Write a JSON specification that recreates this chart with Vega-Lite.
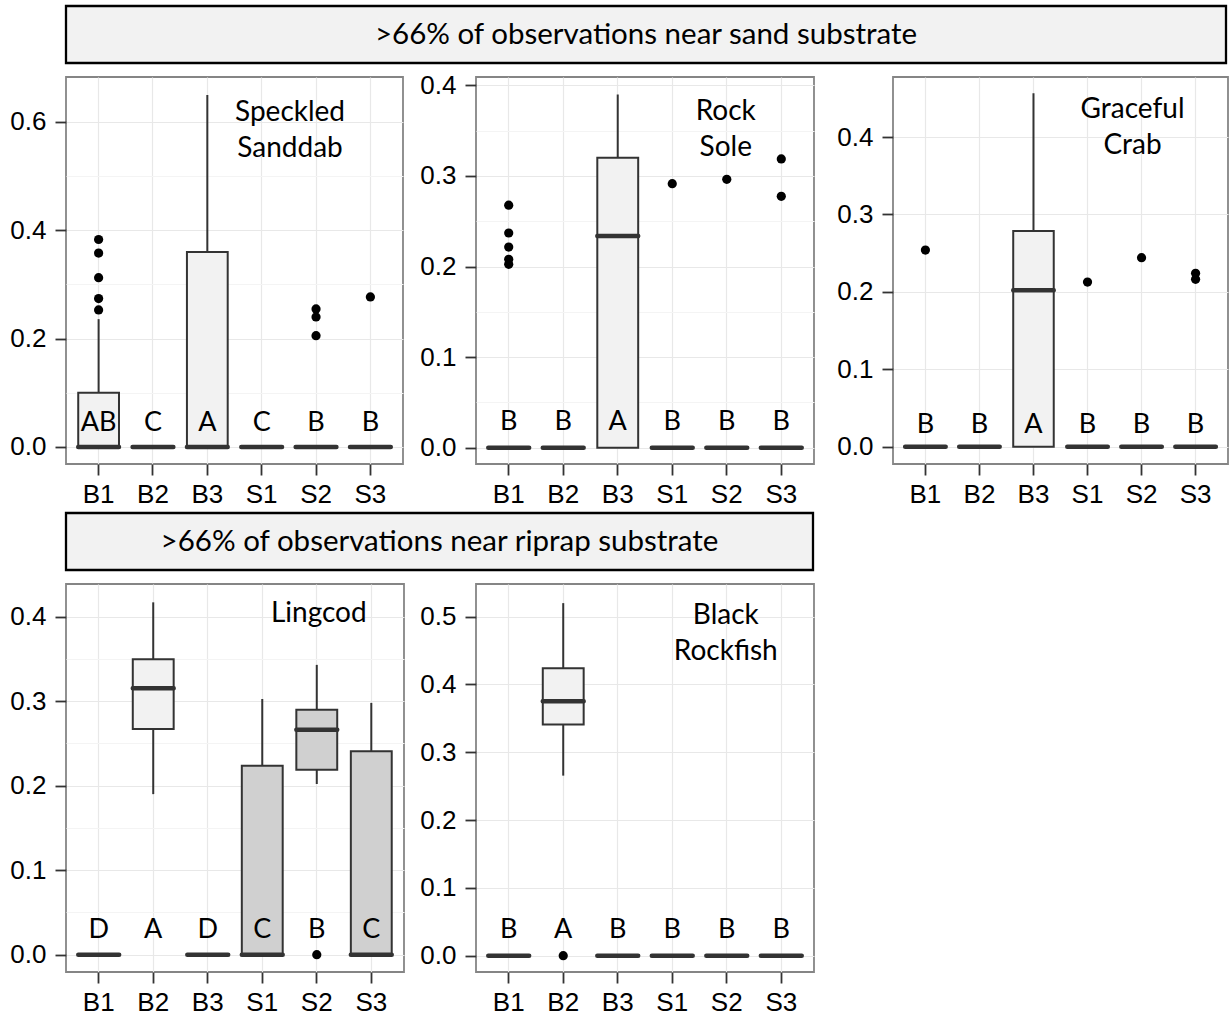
{
  "$schema": "https://vega.github.io/schema/vega-lite/v6.json",
  "padding": {"left": 4, "top": 4, "right": 0, "bottom": 0},
  "autosize": {"type": "pad"},
  "background": "white",
  "spacing": 3,
  "datasets": {
    "banners": [
      {"row": 1, "label": ">66% of observations near sand substrate"},
      {"row": 2, "label": ">66% of observations near riprap substrate"}
    ],
    "labels": [
      {"panel": "sanddab", "label": "Speckled\nSanddab"},
      {"panel": "sole", "label": "Rock\nSole"},
      {"panel": "crab", "label": "Graceful\nCrab"},
      {"panel": "lingcod", "label": "Lingcod"},
      {"panel": "rockfish", "label": "Black\nRockfish"}
    ],
    "boxes": [
      {"panel": "sanddab", "grp": "B1", "lo": 0, "q1": 0, "med": 0, "q3": 0.100, "hi": 0.236, "shade": "light", "letter": "AB"},
      {"panel": "sanddab", "grp": "B2", "lo": 0, "q1": 0, "med": 0, "q3": 0, "hi": 0, "shade": "light", "letter": "C"},
      {"panel": "sanddab", "grp": "B3", "lo": 0, "q1": 0, "med": 0, "q3": 0.360, "hi": 0.650, "shade": "light", "letter": "A"},
      {"panel": "sanddab", "grp": "S1", "lo": 0, "q1": 0, "med": 0, "q3": 0, "hi": 0, "shade": "light", "letter": "C"},
      {"panel": "sanddab", "grp": "S2", "lo": 0, "q1": 0, "med": 0, "q3": 0, "hi": 0, "shade": "light", "letter": "B"},
      {"panel": "sanddab", "grp": "S3", "lo": 0, "q1": 0, "med": 0, "q3": 0, "hi": 0, "shade": "light", "letter": "B"},
      {"panel": "sole", "grp": "B1", "lo": 0, "q1": 0, "med": 0, "q3": 0, "hi": 0, "shade": "light", "letter": "B"},
      {"panel": "sole", "grp": "B2", "lo": 0, "q1": 0, "med": 0, "q3": 0, "hi": 0, "shade": "light", "letter": "B"},
      {"panel": "sole", "grp": "B3", "lo": 0, "q1": 0, "med": 0.2337, "q3": 0.320, "hi": 0.390, "shade": "light", "letter": "A"},
      {"panel": "sole", "grp": "S1", "lo": 0, "q1": 0, "med": 0, "q3": 0, "hi": 0, "shade": "light", "letter": "B"},
      {"panel": "sole", "grp": "S2", "lo": 0, "q1": 0, "med": 0, "q3": 0, "hi": 0, "shade": "light", "letter": "B"},
      {"panel": "sole", "grp": "S3", "lo": 0, "q1": 0, "med": 0, "q3": 0, "hi": 0, "shade": "light", "letter": "B"},
      {"panel": "crab", "grp": "B1", "lo": 0, "q1": 0, "med": 0, "q3": 0, "hi": 0, "shade": "light", "letter": "B"},
      {"panel": "crab", "grp": "B2", "lo": 0, "q1": 0, "med": 0, "q3": 0, "hi": 0, "shade": "light", "letter": "B"},
      {"panel": "crab", "grp": "B3", "lo": 0, "q1": 0, "med": 0.202, "q3": 0.2786, "hi": 0.4564, "shade": "light", "letter": "A"},
      {"panel": "crab", "grp": "S1", "lo": 0, "q1": 0, "med": 0, "q3": 0, "hi": 0, "shade": "light", "letter": "B"},
      {"panel": "crab", "grp": "S2", "lo": 0, "q1": 0, "med": 0, "q3": 0, "hi": 0, "shade": "light", "letter": "B"},
      {"panel": "crab", "grp": "S3", "lo": 0, "q1": 0, "med": 0, "q3": 0, "hi": 0, "shade": "light", "letter": "B"},
      {"panel": "lingcod", "grp": "B1", "lo": 0, "q1": 0, "med": 0, "q3": 0, "hi": 0, "shade": "light", "letter": "D"},
      {"panel": "lingcod", "grp": "B2", "lo": 0.190, "q1": 0.267, "med": 0.3153, "q3": 0.3496, "hi": 0.417, "shade": "light", "letter": "A"},
      {"panel": "lingcod", "grp": "B3", "lo": 0, "q1": 0, "med": 0, "q3": 0, "hi": 0, "shade": "light", "letter": "D"},
      {"panel": "lingcod", "grp": "S1", "lo": 0, "q1": 0, "med": 0, "q3": 0.2237, "hi": 0.3026, "shade": "dark", "letter": "C"},
      {"panel": "lingcod", "grp": "S2", "lo": 0.202, "q1": 0.219, "med": 0.2663, "q3": 0.290, "hi": 0.343, "shade": "dark", "letter": "B"},
      {"panel": "lingcod", "grp": "S3", "lo": 0, "q1": 0, "med": 0, "q3": 0.2407, "hi": 0.298, "shade": "dark", "letter": "C"},
      {"panel": "rockfish", "grp": "B1", "lo": 0, "q1": 0, "med": 0, "q3": 0, "hi": 0, "shade": "light", "letter": "B"},
      {"panel": "rockfish", "grp": "B2", "lo": 0.2655, "q1": 0.3407, "med": 0.3752, "q3": 0.4239, "hi": 0.5198, "shade": "light", "letter": "A"},
      {"panel": "rockfish", "grp": "B3", "lo": 0, "q1": 0, "med": 0, "q3": 0, "hi": 0, "shade": "light", "letter": "B"},
      {"panel": "rockfish", "grp": "S1", "lo": 0, "q1": 0, "med": 0, "q3": 0, "hi": 0, "shade": "light", "letter": "B"},
      {"panel": "rockfish", "grp": "S2", "lo": 0, "q1": 0, "med": 0, "q3": 0, "hi": 0, "shade": "light", "letter": "B"},
      {"panel": "rockfish", "grp": "S3", "lo": 0, "q1": 0, "med": 0, "q3": 0, "hi": 0, "shade": "light", "letter": "B"}
    ],
    "outliers": [
      {"panel": "sanddab", "grp": "B1", "value": 0.383},
      {"panel": "sanddab", "grp": "B1", "value": 0.358},
      {"panel": "sanddab", "grp": "B1", "value": 0.3125},
      {"panel": "sanddab", "grp": "B1", "value": 0.274},
      {"panel": "sanddab", "grp": "B1", "value": 0.253},
      {"panel": "sanddab", "grp": "S2", "value": 0.2548},
      {"panel": "sanddab", "grp": "S2", "value": 0.240},
      {"panel": "sanddab", "grp": "S2", "value": 0.2055},
      {"panel": "sanddab", "grp": "S3", "value": 0.277},
      {"panel": "sole", "grp": "B1", "value": 0.2677},
      {"panel": "sole", "grp": "B1", "value": 0.237},
      {"panel": "sole", "grp": "B1", "value": 0.2215},
      {"panel": "sole", "grp": "B1", "value": 0.208},
      {"panel": "sole", "grp": "B1", "value": 0.2024},
      {"panel": "sole", "grp": "S1", "value": 0.2914},
      {"panel": "sole", "grp": "S2", "value": 0.2963},
      {"panel": "sole", "grp": "S3", "value": 0.3187},
      {"panel": "sole", "grp": "S3", "value": 0.2775},
      {"panel": "crab", "grp": "B1", "value": 0.254},
      {"panel": "crab", "grp": "S1", "value": 0.2127},
      {"panel": "crab", "grp": "S2", "value": 0.2441},
      {"panel": "crab", "grp": "S3", "value": 0.224},
      {"panel": "crab", "grp": "S3", "value": 0.2162},
      {"panel": "lingcod", "grp": "S2", "value": 0},
      {"panel": "rockfish", "grp": "B2", "value": 0}
    ]
  },
  "vconcat": [
    {
      "spacing": 6,
      "vconcat": [
        {
          "width": 1160, "height": 57,
          "view": {"fill": "#f2f2f2", "stroke": "#000000", "strokeWidth": 2.3},
          "data": {"name": "banners"},
          "transform": [{"filter": "datum.row == 1"}],
          "mark": {"type": "text", "font": "Lato", "fontSize": 29.5, "color": "#000000"},
          "encoding": {
            "y": {"datum": "banner", "type": "nominal", "axis": {"labels": false, "ticks": false, "domain": false, "grid": false, "title": null, "minExtent": 60, "maxExtent": 60}},
            "text": {"field": "label", "type": "nominal"}
          }
        },
        {
          "spacing": 17,
          "hconcat": [
            {
              "bounds": "flush",
              "spacing": 73,
              "hconcat": [
                {
                  "width": 337, "height": 387,
                  "layer": [
                    {
                      "data": {"name": "boxes"},
                      "transform": [{"filter": "datum.panel == 'sanddab'"}],
                      "mark": {"type": "rule", "color": "#333333", "strokeWidth": 2},
                      "encoding": {
                        "x": {"field": "grp", "type": "nominal", "title": null,
                              "scale": {"domain": ["B1","B2","B3","S1","S2","S3"], "paddingInner": 0.25, "paddingOuter": 0.225},
                              "axis": {"bandPosition": 0.5, "labelAngle": 0, "grid": true}},
                        "y": {"field": "lo", "type": "quantitative", "title": null,
                              "scale": {"domain": [-0.0314, 0.683], "nice": false, "zero": false},
                              "axis": {"values": [0, 0.1, 0.2, 0.3, 0.4, 0.5, 0.6],
                                       "labelExpr": "round(datum.value*10) % 2 == 1 ? '' : format(datum.value, '.1f')",
                                       "tickOpacity": {"condition": {"test": "round(datum.value*10) % 2 == 1", "value": 0}, "value": 1},
                                       "gridColor": {"condition": {"test": "round(datum.value*10) % 2 == 1", "value": "#f4f4f4"}, "value": "#e8e8e8"}}},
                        "y2": {"field": "hi"}
                      }
                    },
                    {
                      "data": {"name": "boxes"},
                      "transform": [{"filter": "datum.panel == 'sanddab'"}],
                      "mark": {"type": "bar", "stroke": "#333333", "strokeWidth": 2},
                      "encoding": {
                        "x": {"field": "grp", "type": "nominal", "title": null},
                        "y": {"field": "q1", "type": "quantitative", "title": null},
                        "y2": {"field": "q3"},
                        "color": {"field": "shade", "type": "nominal", "scale": {"domain": ["light", "dark"], "range": ["#f2f2f2", "#d0d0d0"]}, "legend": null}
                      }
                    },
                    {
                      "data": {"name": "boxes"},
                      "transform": [{"filter": "datum.panel == 'sanddab'"}],
                      "mark": {"type": "bar", "color": "#333333", "stroke": "#333333", "strokeWidth": 4.5, "strokeJoin": "round"},
                      "encoding": {
                        "x": {"field": "grp", "type": "nominal", "title": null},
                        "y": {"field": "med", "type": "quantitative", "title": null},
                        "y2": {"field": "med"}
                      }
                    },
                    {
                      "data": {"name": "outliers"},
                      "transform": [{"filter": "datum.panel == 'sanddab'"}],
                      "mark": {"type": "circle", "color": "#000000", "opacity": 1, "size": 85},
                      "encoding": {
                        "x": {"field": "grp", "type": "nominal", "title": null},
                        "y": {"field": "value", "type": "quantitative", "title": null}
                      }
                    },
                    {
                      "data": {"name": "boxes"},
                      "transform": [{"filter": "datum.panel == 'sanddab'"}],
                      "mark": {"type": "text", "font": "Lato", "fontSize": 27, "baseline": "alphabetic", "dy": -16, "color": "#000000"},
                      "encoding": {
                        "x": {"field": "grp", "type": "nominal", "title": null},
                        "y": {"datum": 0, "type": "quantitative"},
                        "text": {"field": "letter", "type": "nominal"}
                      }
                    },
                    {
                      "data": {"name": "labels"},
                      "transform": [{"filter": "datum.panel == 'sanddab'"}],
                      "mark": {"type": "text", "font": "Lato", "fontSize": 28, "baseline": "top", "lineBreak": "\n", "lineHeight": 36, "dy": 22, "dx": -26, "color": "#000000"},
                      "encoding": {
                        "x": {"datum": "S2", "type": "nominal"},
                        "y": {"datum": 0.683, "type": "quantitative"},
                        "text": {"field": "label", "type": "nominal"}
                      }
                    }
                  ]
                },
                {
                  "width": 338, "height": 387,
                  "layer": [
                    {
                      "data": {"name": "boxes"},
                      "transform": [{"filter": "datum.panel == 'sole'"}],
                      "mark": {"type": "rule", "color": "#333333", "strokeWidth": 2},
                      "encoding": {
                        "x": {"field": "grp", "type": "nominal", "title": null,
                              "scale": {"domain": ["B1","B2","B3","S1","S2","S3"], "paddingInner": 0.25, "paddingOuter": 0.225},
                              "axis": {"bandPosition": 0.5, "labelAngle": 0, "grid": true}},
                        "y": {"field": "lo", "type": "quantitative", "title": null,
                              "scale": {"domain": [-0.018, 0.4092], "nice": false, "zero": false},
                              "axis": {"values": [0, 0.05, 0.1, 0.15, 0.2, 0.25, 0.3, 0.35, 0.4],
                                       "labelExpr": "round(datum.value*100) % 10 == 5 ? '' : format(datum.value, '.1f')",
                                       "tickOpacity": {"condition": {"test": "round(datum.value*100) % 10 == 5", "value": 0}, "value": 1},
                                       "gridColor": {"condition": {"test": "round(datum.value*100) % 10 == 5", "value": "#f4f4f4"}, "value": "#e8e8e8"}}},
                        "y2": {"field": "hi"}
                      }
                    },
                    {
                      "data": {"name": "boxes"},
                      "transform": [{"filter": "datum.panel == 'sole'"}],
                      "mark": {"type": "bar", "stroke": "#333333", "strokeWidth": 2},
                      "encoding": {
                        "x": {"field": "grp", "type": "nominal", "title": null},
                        "y": {"field": "q1", "type": "quantitative", "title": null},
                        "y2": {"field": "q3"},
                        "color": {"field": "shade", "type": "nominal", "scale": {"domain": ["light", "dark"], "range": ["#f2f2f2", "#d0d0d0"]}, "legend": null}
                      }
                    },
                    {
                      "data": {"name": "boxes"},
                      "transform": [{"filter": "datum.panel == 'sole'"}],
                      "mark": {"type": "bar", "color": "#333333", "stroke": "#333333", "strokeWidth": 4.5, "strokeJoin": "round"},
                      "encoding": {
                        "x": {"field": "grp", "type": "nominal", "title": null},
                        "y": {"field": "med", "type": "quantitative", "title": null},
                        "y2": {"field": "med"}
                      }
                    },
                    {
                      "data": {"name": "outliers"},
                      "transform": [{"filter": "datum.panel == 'sole'"}],
                      "mark": {"type": "circle", "color": "#000000", "opacity": 1, "size": 85},
                      "encoding": {
                        "x": {"field": "grp", "type": "nominal", "title": null},
                        "y": {"field": "value", "type": "quantitative", "title": null}
                      }
                    },
                    {
                      "data": {"name": "boxes"},
                      "transform": [{"filter": "datum.panel == 'sole'"}],
                      "mark": {"type": "text", "font": "Lato", "fontSize": 27, "baseline": "alphabetic", "dy": -18, "color": "#000000"},
                      "encoding": {
                        "x": {"field": "grp", "type": "nominal", "title": null},
                        "y": {"datum": 0, "type": "quantitative"},
                        "text": {"field": "letter", "type": "nominal"}
                      }
                    },
                    {
                      "data": {"name": "labels"},
                      "transform": [{"filter": "datum.panel == 'sole'"}],
                      "mark": {"type": "text", "font": "Lato", "fontSize": 28, "baseline": "top", "lineBreak": "\n", "lineHeight": 36, "dy": 21, "dx": -1, "color": "#000000"},
                      "encoding": {
                        "x": {"datum": "S2", "type": "nominal"},
                        "y": {"datum": 0.4092, "type": "quantitative"},
                        "text": {"field": "label", "type": "nominal"}
                      }
                    }
                  ]
                }
              ]
            },
            {
              "width": 335, "height": 387,
              "layer": [
                {
                  "data": {"name": "boxes"},
                  "transform": [{"filter": "datum.panel == 'crab'"}],
                  "mark": {"type": "rule", "color": "#333333", "strokeWidth": 2},
                  "encoding": {
                    "x": {"field": "grp", "type": "nominal", "title": null,
                          "scale": {"domain": ["B1","B2","B3","S1","S2","S3"], "paddingInner": 0.25, "paddingOuter": 0.225},
                          "axis": {"bandPosition": 0.5, "labelAngle": 0, "grid": true}},
                    "y": {"field": "lo", "type": "quantitative", "title": null,
                          "scale": {"domain": [-0.0223, 0.4775], "nice": false, "zero": false},
                          "axis": {"values": [0, 0.05, 0.1, 0.15, 0.2, 0.25, 0.3, 0.35, 0.4, 0.45, 0.4668],
                                   "labelExpr": "round(datum.value*100) % 10 == 5 ? '' : format(datum.value, '.1f')",
                                   "labelColor": {"condition": {"test": "datum.value > 0.46", "value": "rgba(0,0,0,0)"}, "value": "#000000"},
                                   "gridOpacity": {"condition": {"test": "datum.value > 0.46", "value": 0}, "value": 1},
                                   "tickOpacity": {"condition": {"test": "round(datum.value*100) % 10 == 5 || datum.value > 0.46", "value": 0}, "value": 1},
                                   "gridColor": {"condition": {"test": "round(datum.value*100) % 10 == 5", "value": "#f4f4f4"}, "value": "#e8e8e8"}}},
                    "y2": {"field": "hi"}
                  }
                },
                {
                  "data": {"name": "boxes"},
                  "transform": [{"filter": "datum.panel == 'crab'"}],
                  "mark": {"type": "bar", "stroke": "#333333", "strokeWidth": 2},
                  "encoding": {
                    "x": {"field": "grp", "type": "nominal", "title": null},
                    "y": {"field": "q1", "type": "quantitative", "title": null},
                    "y2": {"field": "q3"},
                    "color": {"field": "shade", "type": "nominal", "scale": {"domain": ["light", "dark"], "range": ["#f2f2f2", "#d0d0d0"]}, "legend": null}
                  }
                },
                {
                  "data": {"name": "boxes"},
                  "transform": [{"filter": "datum.panel == 'crab'"}],
                  "mark": {"type": "bar", "color": "#333333", "stroke": "#333333", "strokeWidth": 4.5, "strokeJoin": "round"},
                  "encoding": {
                    "x": {"field": "grp", "type": "nominal", "title": null},
                    "y": {"field": "med", "type": "quantitative", "title": null},
                    "y2": {"field": "med"}
                  }
                },
                {
                  "data": {"name": "outliers"},
                  "transform": [{"filter": "datum.panel == 'crab'"}],
                  "mark": {"type": "circle", "color": "#000000", "opacity": 1, "size": 85},
                  "encoding": {
                    "x": {"field": "grp", "type": "nominal", "title": null},
                    "y": {"field": "value", "type": "quantitative", "title": null}
                  }
                },
                {
                  "data": {"name": "boxes"},
                  "transform": [{"filter": "datum.panel == 'crab'"}],
                  "mark": {"type": "text", "font": "Lato", "fontSize": 27, "baseline": "alphabetic", "dy": -14, "color": "#000000"},
                  "encoding": {
                    "x": {"field": "grp", "type": "nominal", "title": null},
                    "y": {"datum": 0, "type": "quantitative"},
                    "text": {"field": "letter", "type": "nominal"}
                  }
                },
                {
                  "data": {"name": "labels"},
                  "transform": [{"filter": "datum.panel == 'crab'"}],
                  "mark": {"type": "text", "font": "Lato", "fontSize": 28, "baseline": "top", "lineBreak": "\n", "lineHeight": 36, "dy": 19, "dx": -9, "color": "#000000"},
                  "encoding": {
                    "x": {"datum": "S2", "type": "nominal"},
                    "y": {"datum": 0.4775, "type": "quantitative"},
                    "text": {"field": "label", "type": "nominal"}
                  }
                }
              ]
            }
          ]
        }
      ]
    },
    {
      "spacing": 11,
      "vconcat": [
        {
          "width": 747, "height": 57,
          "view": {"fill": "#f2f2f2", "stroke": "#000000", "strokeWidth": 2.3},
          "data": {"name": "banners"},
          "transform": [{"filter": "datum.row == 2"}],
          "mark": {"type": "text", "font": "Lato", "fontSize": 29.5, "color": "#000000"},
          "encoding": {
            "y": {"datum": "banner", "type": "nominal", "axis": {"labels": false, "ticks": false, "domain": false, "grid": false, "title": null, "minExtent": 60, "maxExtent": 60}},
            "text": {"field": "label", "type": "nominal"}
          }
        },
        {
          "bounds": "flush",
          "spacing": 72,
          "hconcat": [
            {
              "width": 338, "height": 388,
              "layer": [
                {
                  "data": {"name": "boxes"},
                  "transform": [{"filter": "datum.panel == 'lingcod'"}],
                  "mark": {"type": "rule", "color": "#333333", "strokeWidth": 2},
                  "encoding": {
                    "x": {"field": "grp", "type": "nominal", "title": null,
                          "scale": {"domain": ["B1","B2","B3","S1","S2","S3"], "paddingInner": 0.25, "paddingOuter": 0.225},
                          "axis": {"bandPosition": 0.5, "labelAngle": 0, "grid": true}},
                    "y": {"field": "lo", "type": "quantitative", "title": null,
                          "scale": {"domain": [-0.0205, 0.4387], "nice": false, "zero": false},
                          "axis": {"values": [0, 0.05, 0.1, 0.15, 0.2, 0.25, 0.3, 0.35, 0.4],
                                   "labelExpr": "round(datum.value*100) % 10 == 5 ? '' : format(datum.value, '.1f')",
                                   "tickOpacity": {"condition": {"test": "round(datum.value*100) % 10 == 5", "value": 0}, "value": 1},
                                   "gridColor": {"condition": {"test": "round(datum.value*100) % 10 == 5", "value": "#f4f4f4"}, "value": "#e8e8e8"}}},
                    "y2": {"field": "hi"}
                  }
                },
                {
                  "data": {"name": "boxes"},
                  "transform": [{"filter": "datum.panel == 'lingcod'"}],
                  "mark": {"type": "bar", "stroke": "#333333", "strokeWidth": 2},
                  "encoding": {
                    "x": {"field": "grp", "type": "nominal", "title": null},
                    "y": {"field": "q1", "type": "quantitative", "title": null},
                    "y2": {"field": "q3"},
                    "color": {"field": "shade", "type": "nominal", "scale": {"domain": ["light", "dark"], "range": ["#f2f2f2", "#d0d0d0"]}, "legend": null}
                  }
                },
                {
                  "data": {"name": "boxes"},
                  "transform": [{"filter": "datum.panel == 'lingcod'"}],
                  "mark": {"type": "bar", "color": "#333333", "stroke": "#333333", "strokeWidth": 4.5, "strokeJoin": "round"},
                  "encoding": {
                    "x": {"field": "grp", "type": "nominal", "title": null},
                    "y": {"field": "med", "type": "quantitative", "title": null},
                    "y2": {"field": "med"}
                  }
                },
                {
                  "data": {"name": "outliers"},
                  "transform": [{"filter": "datum.panel == 'lingcod'"}],
                  "mark": {"type": "circle", "color": "#000000", "opacity": 1, "size": 85},
                  "encoding": {
                    "x": {"field": "grp", "type": "nominal", "title": null},
                    "y": {"field": "value", "type": "quantitative", "title": null}
                  }
                },
                {
                  "data": {"name": "boxes"},
                  "transform": [{"filter": "datum.panel == 'lingcod'"}],
                  "mark": {"type": "text", "font": "Lato", "fontSize": 27, "baseline": "alphabetic", "dy": -17, "color": "#000000"},
                  "encoding": {
                    "x": {"field": "grp", "type": "nominal", "title": null},
                    "y": {"datum": 0, "type": "quantitative"},
                    "text": {"field": "letter", "type": "nominal"}
                  }
                },
                {
                  "data": {"name": "labels"},
                  "transform": [{"filter": "datum.panel == 'lingcod'"}],
                  "mark": {"type": "text", "font": "Lato", "fontSize": 28, "baseline": "top", "lineBreak": "\n", "lineHeight": 36, "dy": 16, "dx": 2, "color": "#000000"},
                  "encoding": {
                    "x": {"datum": "S2", "type": "nominal"},
                    "y": {"datum": 0.4387, "type": "quantitative"},
                    "text": {"field": "label", "type": "nominal"}
                  }
                }
              ]
            },
            {
              "width": 338, "height": 388,
              "layer": [
                {
                  "data": {"name": "boxes"},
                  "transform": [{"filter": "datum.panel == 'rockfish'"}],
                  "mark": {"type": "rule", "color": "#333333", "strokeWidth": 2},
                  "encoding": {
                    "x": {"field": "grp", "type": "nominal", "title": null,
                          "scale": {"domain": ["B1","B2","B3","S1","S2","S3"], "paddingInner": 0.25, "paddingOuter": 0.225},
                          "axis": {"bandPosition": 0.5, "labelAngle": 0, "grid": true}},
                    "y": {"field": "lo", "type": "quantitative", "title": null,
                          "scale": {"domain": [-0.024, 0.548], "nice": false, "zero": false},
                          "axis": {"values": [0, 0.05, 0.1, 0.15, 0.2, 0.25, 0.3, 0.35, 0.4, 0.45, 0.5],
                                   "labelExpr": "round(datum.value*100) % 10 == 5 ? '' : format(datum.value, '.1f')",
                                   "tickOpacity": {"condition": {"test": "round(datum.value*100) % 10 == 5", "value": 0}, "value": 1},
                                   "gridColor": {"condition": {"test": "round(datum.value*100) % 10 == 5", "value": "#f4f4f4"}, "value": "#e8e8e8"}}},
                    "y2": {"field": "hi"}
                  }
                },
                {
                  "data": {"name": "boxes"},
                  "transform": [{"filter": "datum.panel == 'rockfish'"}],
                  "mark": {"type": "bar", "stroke": "#333333", "strokeWidth": 2},
                  "encoding": {
                    "x": {"field": "grp", "type": "nominal", "title": null},
                    "y": {"field": "q1", "type": "quantitative", "title": null},
                    "y2": {"field": "q3"},
                    "color": {"field": "shade", "type": "nominal", "scale": {"domain": ["light", "dark"], "range": ["#f2f2f2", "#d0d0d0"]}, "legend": null}
                  }
                },
                {
                  "data": {"name": "boxes"},
                  "transform": [{"filter": "datum.panel == 'rockfish'"}],
                  "mark": {"type": "bar", "color": "#333333", "stroke": "#333333", "strokeWidth": 4.5, "strokeJoin": "round"},
                  "encoding": {
                    "x": {"field": "grp", "type": "nominal", "title": null},
                    "y": {"field": "med", "type": "quantitative", "title": null},
                    "y2": {"field": "med"}
                  }
                },
                {
                  "data": {"name": "outliers"},
                  "transform": [{"filter": "datum.panel == 'rockfish'"}],
                  "mark": {"type": "circle", "color": "#000000", "opacity": 1, "size": 85},
                  "encoding": {
                    "x": {"field": "grp", "type": "nominal", "title": null},
                    "y": {"field": "value", "type": "quantitative", "title": null}
                  }
                },
                {
                  "data": {"name": "boxes"},
                  "transform": [{"filter": "datum.panel == 'rockfish'"}],
                  "mark": {"type": "text", "font": "Lato", "fontSize": 27, "baseline": "alphabetic", "dy": -18, "color": "#000000"},
                  "encoding": {
                    "x": {"field": "grp", "type": "nominal", "title": null},
                    "y": {"datum": 0, "type": "quantitative"},
                    "text": {"field": "letter", "type": "nominal"}
                  }
                },
                {
                  "data": {"name": "labels"},
                  "transform": [{"filter": "datum.panel == 'rockfish'"}],
                  "mark": {"type": "text", "font": "Lato", "fontSize": 28, "baseline": "top", "lineBreak": "\n", "lineHeight": 36, "dy": 18, "dx": -1, "color": "#000000"},
                  "encoding": {
                    "x": {"datum": "S2", "type": "nominal"},
                    "y": {"datum": 0.548, "type": "quantitative"},
                    "text": {"field": "label", "type": "nominal"}
                  }
                }
              ]
            }
          ]
        }
      ]
    }
  ],
  "config": {
    "font": "Liberation Sans",
    "view": {"stroke": "#858585", "strokeWidth": 1.8},
    "axis": {
      "domain": false,
      "labelFont": "Liberation Sans",
      "labelFontSize": 26,
      "labelColor": "#000000",
      "tickColor": "#333333",
      "tickWidth": 1.8,
      "tickSize": 11,
      "labelPadding": 9,
      "gridColor": "#e8e8e8",
      "gridWidth": 1.2,
      "titlePadding": 0
    },
    "axisY": {"minExtent": 60, "maxExtent": 60},
    "axisX": {"labelPadding": 6}
  }
}
